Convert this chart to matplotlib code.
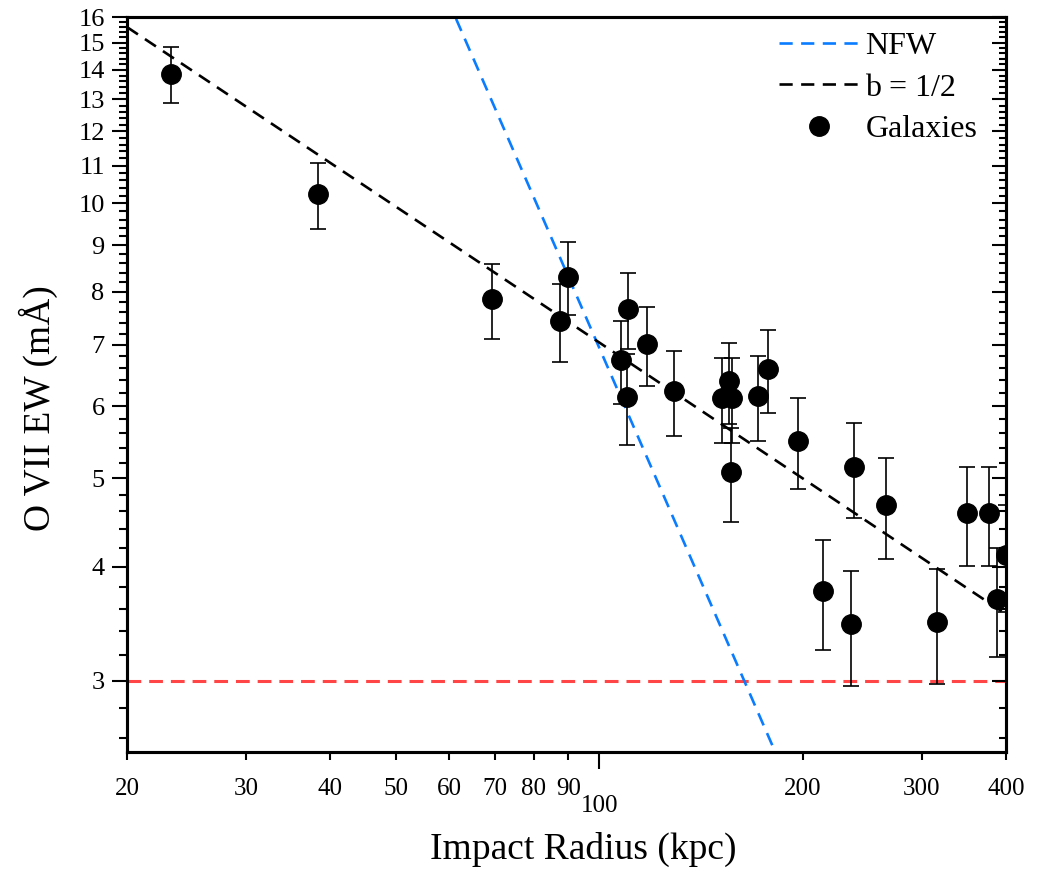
import numpy as np
import matplotlib
matplotlib.use("Agg")
import matplotlib.pyplot as plt
from matplotlib.ticker import FixedLocator, NullFormatter

plt.rcParams['font.family'] = ['Liberation Serif', 'DejaVu Serif']

radius = [23.2, 38.3, 69.3, 87.5, 89.8, 107.7, 109.8, 110.4, 117.6, 129.0,
          151.8, 155.8, 156.7, 157.1, 171.6, 177.8, 196.9, 214.7, 235.9, 238.6,
          265.8, 316.6, 350.0, 377.8, 387.6, 400.0]
ew = [13.86, 10.23, 7.85, 7.44, 8.31, 6.73, 6.14, 7.66, 7.01, 6.23,
      6.12, 6.39, 5.08, 6.12, 6.15, 6.58, 5.50, 3.76, 3.46, 5.14,
      4.67, 3.48, 4.58, 4.58, 3.69, 4.12]
ew_err = [0.98, 0.85, 0.74, 0.73, 0.77, 0.70, 0.70, 0.74, 0.70, 0.66,
          0.66, 0.65, 0.60, 0.65, 0.66, 0.68, 0.63, 0.52, 0.50, 0.61,
          0.59, 0.50, 0.57, 0.57, 0.50, 0.55]

# model lines (end points)
nfw_r = [55, 200]
nfw_ew = [19.2, 2.14]
b_r = [20, 400]
b_ew = [15.6, 3.55]
floor_ew = 3.0

fig = plt.figure(figsize=(10.51, 8.72), dpi=100)
ax = fig.add_axes([0.1208, 0.1376, 0.8364, 0.8429])

ax.errorbar(radius, ew, yerr=ew_err, fmt='none', ecolor='black',
            elinewidth=1.2, capsize=6, capthick=1.2, zorder=3)
ax.plot(nfw_r, nfw_ew, color='#0a7cff', lw=1.9, dashes=(5, 3.2), label='NFW', zorder=2)
ax.plot(b_r, b_ew, color='black', lw=1.9, dashes=(5, 3.2), label='b = 1/2', zorder=2)
ax.plot(radius, ew, 'o', color='black', ms=14, label='Galaxies', zorder=4)
ax.axhline(floor_ew, color='#ff4545', lw=2.2, dashes=(4.5, 2.6), zorder=1)

ax.set_xscale('log')
ax.set_yscale('log')
ax.set_xlim(20, 400)
ax.set_ylim(2.508, 16)

# x ticks: 100 gets a longer tick and a lower label
ax.set_xticks([100], ['100'])
minor_x = [20, 30, 40, 50, 60, 70, 80, 90, 200, 300, 400]
ax.set_xticks(minor_x, [str(v) for v in minor_x], minor=True)
ax.tick_params(axis='x', which='major', direction='out', length=12, width=1.5,
               pad=19, labelsize=18, top=False)
ax.tick_params(axis='x', which='minor', direction='out', length=6, width=1.5,
               pad=13, labelsize=18, top=False)

yt = list(range(3, 17))
ax.set_yticks(yt, [str(v) for v in yt])
minor_y = [v for v in np.arange(2.6, 16.01, 0.2) if abs(v - round(v)) > 1e-6]
ax.yaxis.set_minor_locator(FixedLocator(minor_y))
ax.yaxis.set_minor_formatter(NullFormatter())
ax.tick_params(axis='y', which='major', direction='out', length=11, width=1.5,
               pad=5, labelsize=19, right=False)
ax.tick_params(axis='y', which='minor', direction='out', length=6, width=1.5,
               right=False)

# right-hand ticks point inward
ax2 = ax.twinx()
ax2.set_yscale('log')
ax2.set_ylim(ax.get_ylim())
ax2.yaxis.set_major_locator(FixedLocator(yt))
ax2.yaxis.set_minor_locator(FixedLocator(minor_y))
ax2.yaxis.set_major_formatter(NullFormatter())
ax2.yaxis.set_minor_formatter(NullFormatter())
ax2.tick_params(axis='y', which='major', direction='in', length=10, width=1.5)
ax2.tick_params(axis='y', which='minor', direction='in', length=5, width=1.5)

for a in (ax, ax2):
    for sp in a.spines.values():
        sp.set_linewidth(2.2)

ax.set_xlabel('Impact Radius (kpc)', fontsize=27)
ax.set_ylabel('O VII EW (mÅ)', fontsize=27)
ax.xaxis.set_label_coords(0.519, -0.108)
ax.yaxis.set_label_coords(-0.078, 0.468)

ax.legend(loc='upper right', bbox_to_anchor=(0.989, 1.006), frameon=False,
          fontsize=23, handlelength=2.5, handletextpad=0.2, labelspacing=0.38,
          numpoints=1, borderaxespad=0.2)

fig.savefig('out.png', dpi=100)
